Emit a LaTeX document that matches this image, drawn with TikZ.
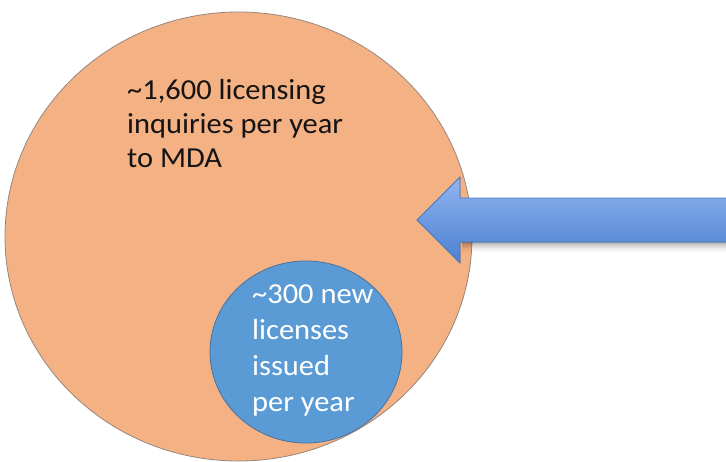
\documentclass[tikz,border=0pt]{standalone}
\usepackage{fontspec}
\setmainfont{Carlito}[FakeStretch=1.05]
\usetikzlibrary{shapes.geometric}
\definecolor{orangefill}{RGB}{244,177,131}
\definecolor{orangeline}{RGB}{150,135,125}
\definecolor{bluefill}{RGB}{91,155,213}
\definecolor{blueline}{RGB}{70,115,160}
\definecolor{arrowtop}{RGB}{143,181,241}
\definecolor{arrowbot}{RGB}{76,128,208}
\definecolor{arrowline}{RGB}{70,120,192}
\definecolor{darktext}{RGB}{20,20,20}
\tikzset{
  setbox/.style={ellipse, inner sep=0pt, line width=0.8pt},
  bigtext/.style={font=\fontsize{29}{34.2}\selectfont, text=darktext, align=left, inner sep=0pt},
  smalltext/.style={font=\fontsize{29}{36.1}\selectfont, text=white, align=left, inner sep=0pt},
}
\begin{document}
\begin{tikzpicture}[x=1pt,y=-1pt]
\useasboundingbox (0,0) rectangle (726,461);
% large set
\node[setbox, draw=orangeline, fill=orangefill, minimum width=467pt, minimum height=449pt] (big) at (238.5,236.5) {};
% small set
\node[setbox, draw=blueline, fill=bluefill, minimum width=192pt, minimum height=182pt] (small) at (306,352) {};
% labels (base anchor = baseline of last line)
\node[bigtext, anchor=base west] (bigl) at (127,167.7) {\textasciitilde1,600 licensing\\inquiries per year\\to MDA};
\node[smalltext, anchor=base west] (smalll) at (252,411.7) {\textasciitilde300 new\\licenses\\issued\\per year};
% arrow shadow
\foreach \o/\a in {2/0.10,4/0.08,6/0.06,8/0.04,10/0.03}{
  \fill[black, opacity=\a] (462,242) rectangle (730,242+\o);
}
% block arrow
\coordinate (tip) at (417,220);
\fill[top color=arrowtop, bottom color=arrowbot]
  (tip) -- (460,177) -- (460,198) -- (730,198) -- (730,242) -- (460,242) -- (460,263) -- cycle;
\draw[arrowline, line width=0.9pt, line join=miter]
  (730,242) -- (460,242) -- (460,263) -- (tip) -- (460,177) -- (460,198) -- (730,198);
\end{tikzpicture}
\end{document}
